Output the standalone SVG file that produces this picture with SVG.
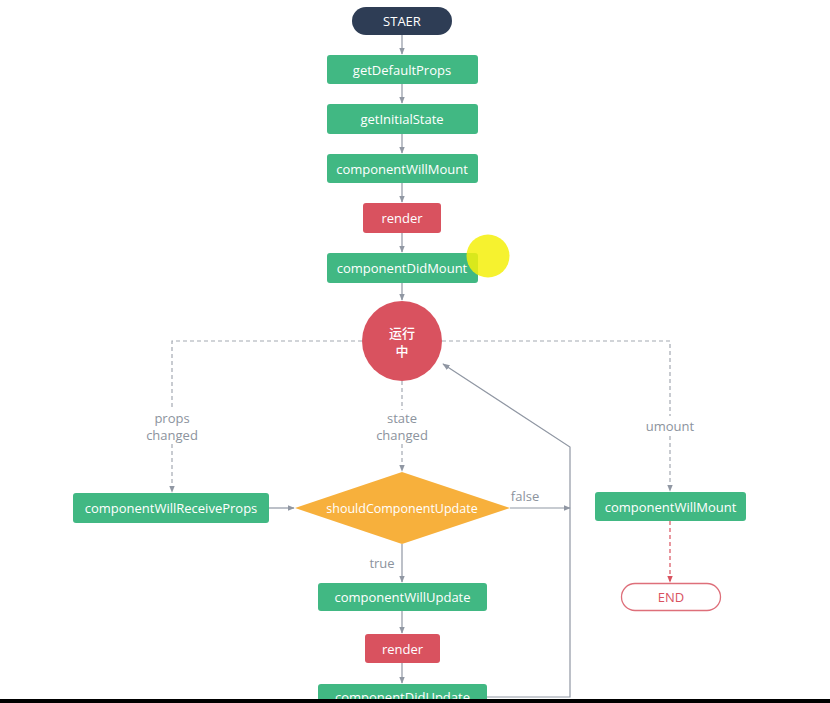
<svg xmlns="http://www.w3.org/2000/svg" width="830" height="703" viewBox="0 0 830 703">
<style>
text{font-family:"Open Sans","Noto Sans","Noto Sans CJK SC",sans-serif;font-size:13px;text-anchor:middle;dominant-baseline:central}
.g rect{fill:#41b883}
.r rect{fill:#d9525f}
.w{fill:#ffffff;font-weight:500}
.lbl{fill:#8c939d}
.ln{stroke:#9097a3;stroke-width:1.2;fill:none}
.dl{stroke:#a4a9b2;stroke-width:1.2;fill:none;stroke-dasharray:4 3}
.rd{stroke:#d9525f;stroke-width:1.2;fill:none;stroke-dasharray:4 3}
</style>
<defs>
<marker id="a" viewBox="0 0 10 10" refX="9" refY="5" markerWidth="6" markerHeight="6" orient="auto"><path d="M0,1 L10,5 L0,9 z" fill="#9097a3"/></marker>
<marker id="ar" viewBox="0 0 10 10" refX="9" refY="5" markerWidth="6" markerHeight="6" orient="auto"><path d="M0,1 L10,5 L0,9 z" fill="#d9525f"/></marker>
</defs>
<rect width="830" height="703" fill="#ffffff"/>
<g id="connectors">
<line class="ln" x1="402" y1="35" x2="402" y2="54" marker-end="url(#a)"/>
<line class="ln" x1="402" y1="84" x2="402" y2="103" marker-end="url(#a)"/>
<line class="ln" x1="402" y1="134" x2="402" y2="153" marker-end="url(#a)"/>
<line class="ln" x1="402" y1="183" x2="402" y2="202" marker-end="url(#a)"/>
<line class="ln" x1="402" y1="233" x2="402" y2="252" marker-end="url(#a)"/>
<line class="ln" x1="402" y1="283" x2="402" y2="300" marker-end="url(#a)"/>
<polyline class="dl" points="362,341 172,341 172,410"/>
<line class="dl" x1="172" y1="444" x2="172" y2="492" marker-end="url(#a)"/>
<line class="dl" x1="402" y1="381" x2="402" y2="410"/>
<line class="dl" x1="402" y1="444" x2="402" y2="471" marker-end="url(#a)"/>
<polyline class="dl" points="442,341 670,341 670,416"/>
<line class="dl" x1="670" y1="436" x2="670" y2="491" marker-end="url(#a)"/>
<line class="ln" x1="269" y1="508" x2="294" y2="508" marker-end="url(#a)"/>
<line class="ln" x1="510" y1="508" x2="570" y2="508" marker-end="url(#a)"/>
<line class="ln" x1="402" y1="544" x2="402" y2="582" marker-end="url(#a)"/>
<line class="ln" x1="402" y1="611" x2="402" y2="633" marker-end="url(#a)"/>
<line class="ln" x1="402" y1="663" x2="402" y2="683" marker-end="url(#a)"/>
<polyline class="ln" points="487,697 570,697 570,447 443,364" marker-end="url(#a)"/>
<line class="rd" x1="670" y1="521" x2="670" y2="582" marker-end="url(#ar)"/>
<text class="lbl" x="172" y="418">props</text>
<text class="lbl" x="172" y="435">changed</text>
<text class="lbl" x="402" y="418">state</text>
<text class="lbl" x="402" y="435">changed</text>
<text class="lbl" x="670" y="426">umount</text>
<text class="lbl" x="525" y="496">false</text>
<text class="lbl" x="382" y="563">true</text>
</g>
<g id="start"><rect x="352" y="7" width="100" height="28" rx="14" fill="#2e3d55"/><text class="w" x="402" y="21">STAER</text></g>
<g id="getDefaultProps" class="g"><rect x="327" y="55" width="151" height="29" rx="3"/><text class="w" x="402" y="69.5">getDefaultProps</text></g>
<g id="getInitialState" class="g"><rect x="327" y="104" width="151" height="30" rx="3"/><text class="w" x="402" y="119">getInitialState</text></g>
<g id="componentWillMount" class="g"><rect x="327" y="154" width="151" height="29" rx="3"/><text class="w" x="402" y="168.5">componentWillMount</text></g>
<g id="render1" class="r"><rect x="363" y="203" width="78" height="30" rx="3"/><text class="w" x="402" y="218">render</text></g>
<g id="componentDidMount" class="g"><rect x="327" y="253" width="151" height="30" rx="3"/><text class="w" x="402" y="268">componentDidMount</text></g>
<g id="running"><circle cx="402" cy="341" r="40" fill="#d9525f"/><text class="w" x="402" y="333">运行</text><text class="w" x="402" y="351">中</text></g>
<g id="componentWillReceiveProps" class="g"><rect x="73" y="493" width="196" height="30" rx="3"/><text class="w" x="171" y="508">componentWillReceiveProps</text></g>
<g id="shouldComponentUpdate"><polygon points="295,508 402,472 510,508 402,544" fill="#f7b03c"/><text class="w" x="402" y="508" style="font-size:12.5px;font-weight:400">shouldComponentUpdate</text></g>
<g id="componentWillMount2" class="g"><rect x="595" y="492" width="151" height="29" rx="3"/><text class="w" x="670.5" y="506.5">componentWillMount</text></g>
<g id="end"><rect x="621.5" y="583.5" width="99" height="27" rx="13.5" fill="#ffffff" stroke="#de6f7a" stroke-width="1.3"/><text x="671" y="597" fill="#d9525f">END</text></g>
<g id="componentWillUpdate" class="g"><rect x="318" y="583" width="169" height="28" rx="3"/><text class="w" x="402.5" y="597">componentWillUpdate</text></g>
<g id="render2" class="r"><rect x="365" y="634" width="75" height="29" rx="3"/><text class="w" x="402.5" y="648.5">render</text></g>
<g id="componentDidUpdate" class="g"><rect x="318" y="684" width="169" height="28" rx="3"/><text class="w" x="402.5" y="697">componentDidUpdate</text></g>
<circle id="cursor" cx="488" cy="256" r="21.5" fill="#f5f00a" opacity="0.85"/>
<rect x="0" y="699" width="830" height="4" fill="#000000"/>
</svg>
